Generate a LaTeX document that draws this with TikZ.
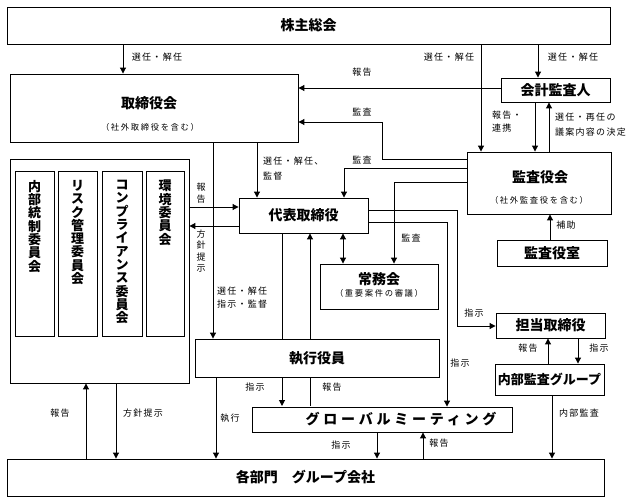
\documentclass[tikz,border=0pt]{standalone}
\usepackage{fontspec}
\setmainfont{Noto Sans CJK JP}
\newfontfamily\spacedfont[LetterSpace=14]{Noto Sans CJK JP}
\newfontfamily\subfont[LetterSpace=20]{Noto Sans CJK JP}
\newfontfamily\widefont[LetterSpace=27]{Noto Sans CJK JP}
\usetikzlibrary{arrows.meta,positioning,calc}

\tikzset{
  box/.style={draw, line width=0.9pt, fill=white, inner sep=0pt, font=\fontsize{14}{16}\selectfont\bfseries},
  ttl/.style={inner sep=0pt, font=\fontsize{14}{16}\selectfont\bfseries},
  sub/.style={inner sep=0pt, font=\subfont\fontsize{8.3}{10}\selectfont},
  lbl/.style={inner sep=0pt, font=\spacedfont\fontsize{9}{13}\selectfont},
  vlbl/.style={inner sep=0pt, align=center, font=\fontsize{9}{11.5}\selectfont},
  tate/.style={inner sep=0pt, align=center, anchor=north, font=\fontsize{13}{13.3}\selectfont\bfseries},
  ln/.style={line width=1pt},
  arr/.style={line width=1pt, -{Triangle[length=6pt,width=6pt]}},
  darr/.style={line width=1pt, {Triangle[length=6pt,width=6pt]}-{Triangle[length=6pt,width=6pt]}},
}

\begin{document}
\begin{tikzpicture}[x=1pt,y=-1pt]
\useasboundingbox (0,0) rectangle (639,503);

% boxes
\node[box, minimum width=603pt, minimum height=37pt] (kabu) at (308.5,25.5) {株主総会};
\node[box, minimum width=288pt, minimum height=68pt] (tori) at (154,108) {};
\node[ttl] (tori-t) at (149,103) {取締役会};
\node[sub] (tori-s) at (150,127) {（社外取締役を含む）};
\node[box, minimum width=109pt, minimum height=24pt] (kaikei) at (555.5,90) {会計監査人};
\node[box, minimum width=144pt, minimum height=62pt] (kansa) at (539,183) {};
\node[ttl] (kansa-t) at (540,177) {監査役会};
\node[sub] (kansa-s) at (539,200) {（社外監査役を含む）};
\node[box, minimum width=110pt, minimum height=26pt] (shitsu) at (552,253) {監査役室};
\node[box, minimum width=129pt, minimum height=35pt] (daihyo) at (303.5,215.5) {代表取締役};
\node[box, minimum width=118pt, minimum height=45pt] (jomu) at (379,286.5) {};
\node[ttl] (jomu-t) at (379,279) {常務会};
\node[sub] (jomu-s) at (379,293) {（重要案件の審議）};
\node[box, minimum width=109pt, minimum height=25pt] (tanto) at (550.5,325.5) {担当取締役};
\node[box, minimum width=109pt, minimum height=31pt, font=\fontsize{13}{15}\selectfont\bfseries] (naibu) at (549.5,379.5) {内部監査グループ};
\node[box, minimum width=597pt, minimum height=37pt] (kakubu) at (305.5,477.5) {各部門　グループ会社};

% committees
\node[draw, line width=0.9pt, minimum width=179pt, minimum height=224pt] (iinkai) at (99.5,271) {};
\foreach \nm/\cx/\bw/\txt in {
  i1/34.5/39/{内\\部\\統\\制\\委\\員\\会},
  i2/77.5/39/{リ\\ス\\ク\\管\\理\\委\\員\\会},
  i3/122/40/{コ\\ン\\プ\\ラ\\イ\\ア\\ン\\ス\\委\\員\\会},
  i4/165/38/{環\\境\\委\\員\\会}} {
  \node[draw, line width=0.9pt, minimum width=\bw pt, minimum height=165pt] (\nm) at (\cx,253.5) {};
  \node[tate] (\nm-t) at (\cx,180) {\txt};
}

% lines behind the executive box
\draw[arr] (daihyo.south -| 282,0) -- (282,406);
\draw[arr] (310,406) -- (daihyo.south -| 310,0);

\node[box, minimum width=244pt, minimum height=38pt] (shikko) at (317,358) {執行役員};
\node[box, minimum width=260pt, minimum height=25pt] (global) at (382,419.5) {};
\node[inner sep=0pt, font=\widefont\fontsize{14}{15}\selectfont\bfseries] (global-t) at (401,419.5) {グローバルミーティング};

% connectors
\draw[arr] (kabu.south -| 123,0) -- (tori.north -| 123,0);
\draw[arr] (kabu.south -| 481,0) -- (kansa.north -| 481,0);
\draw[arr] (kabu.south -| 538,0) -- (kaikei.north -| 538,0);
\draw[arr] (kaikei.west |- 0,88) -- (tori.east |- 0,88);
\draw[arr] (kansa.west |- 0,159) -| (382,122) -- (tori.east |- 0,122);
\draw[arr] (kansa.west |- 0,168) -| (daihyo.north -| 344,0);
\draw[arr] (kansa.west |- 0,182) -| (jomu.north -| 394,0);
\draw[arr] (kaikei.south -| 535,0) -- (kansa.north -| 535,0);
\draw[arr] (kansa.north -| 549,0) -- (kaikei.south -| 549,0);
\draw[arr] (shitsu.north -| 550,0) -- (kansa.south -| 550,0);
\draw[arr] (tori.south -| 257,0) -- (daihyo.north -| 257,0);
\draw[arr] (tori.south -| 213,0) -- (shikko.north -| 213,0);
\draw[arr] (iinkai.east |- 0,207) -- (daihyo.west |- 0,207);
\draw[arr] (daihyo.west |- 0,226) -- (iinkai.east |- 0,226);
\draw[darr] (daihyo.south -| 343,0) -- (jomu.north -| 343,0);
\draw[arr] (shikko.south -| 216,0) -- (kakubu.north -| 216,0);
\draw[arr] (daihyo.east |- 0,210) -| (457,326) -- (tanto.west |- 0,326);
\draw[arr] (daihyo.east |- 0,222) -| (global.north -| 447,0);
\draw[arr] (naibu.north -| 548,0) -- (tanto.south -| 548,0);
\draw[arr] (tanto.south -| 578,0) -- (naibu.north -| 578,0);
\draw[arr] (naibu.south -| 552,0) -- (kakubu.north -| 552,0);
\draw[arr] (kakubu.north -| 86,0) -- (iinkai.south -| 86,0);
\draw[arr] (iinkai.south -| 116,0) -- (kakubu.north -| 116,0);
\draw[arr] (global.south -| 377,0) -- (kakubu.north -| 377,0);
\draw[arr] (kakubu.north -| 423,0) -- (global.south -| 423,0);

% labels
\node[lbl] (l1) at (157,57) {選任・解任};
\node[lbl] (l2) at (449,57) {選任・解任};
\node[lbl] (l3) at (573,57) {選任・解任};
\node[lbl] (l4) at (362,72) {報告};
\node[lbl] (l5) at (362,112) {監査};
\node[lbl] (l6) at (362,160) {監査};
\node[lbl] (l7) at (411,238) {監査};
\node[lbl, align=left, anchor=west] (l8) at (492,122) {報告・\\連携};
\node[lbl, align=left, anchor=west, font=\spacedfont\fontsize{9}{15}\selectfont] (l9) at (555,125) {選任・再任の\\議案内容の決定};
\node[lbl] (l10) at (566,225) {補助};
\node[lbl, align=left, anchor=west, font=\spacedfont\fontsize{9}{15}\selectfont] (l11) at (263,169) {選任・解任、\\監督};
\node[lbl, align=left, anchor=west] (l12) at (217,298) {選任・解任\\指示・監督};
\node[vlbl] (l13) at (201,193) {報\\告};
\node[vlbl] (l14) at (201,251) {方\\針\\提\\示};
\node[lbl] (l15) at (255,387) {指示};
\node[lbl] (l16) at (332,387) {報告};
\node[lbl] (l17) at (230,418) {執行};
\node[lbl] (l18) at (474,313) {指示};
\node[lbl] (l19) at (460,363) {指示};
\node[lbl] (l20) at (528,348) {報告};
\node[lbl] (l21) at (599,348) {指示};
\node[lbl] (l22) at (579,413) {内部監査};
\node[lbl] (l23) at (60,413) {報告};
\node[lbl] (l24) at (143,413) {方針提示};
\node[lbl] (l25) at (341,445) {指示};
\node[lbl] (l26) at (439,443) {報告};
\end{tikzpicture}
\end{document}
